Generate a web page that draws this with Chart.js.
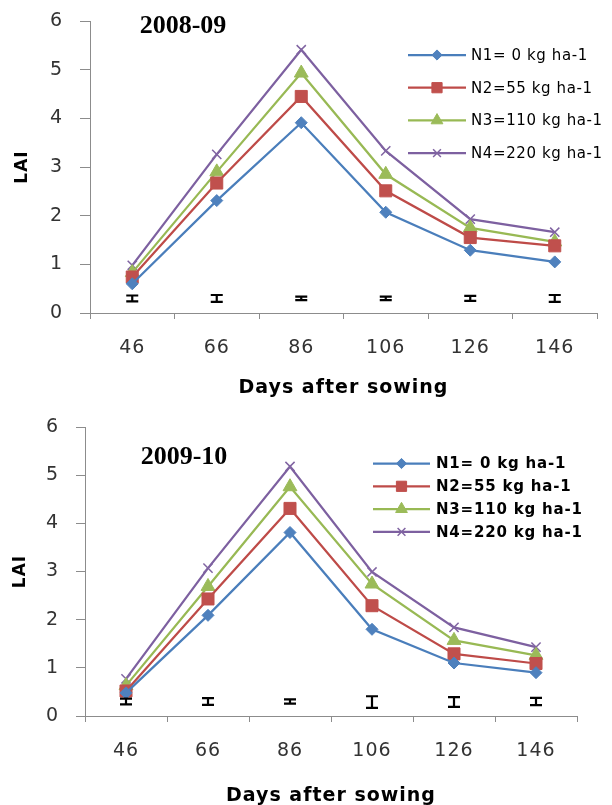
<!DOCTYPE html>
<html>
<head>
<meta charset="utf-8">
<script src="https://cdn.jsdelivr.net/npm/chart.js@4.4.1/dist/chart.umd.min.js"></script>
<style>
    html, body { margin: 0; padding: 0; background: #fff; overflow: hidden; }
    .box { position: absolute; left: 0; width: 612px; overflow: hidden; }
</style>
</head>
<body>
<div class="box" style="top:0;height:400px"><canvas id="c1" width="612" height="400"></canvas></div>
<div class="box" style="top:400px;height:405px"><canvas id="c2" width="612" height="420"></canvas></div>
<script>
// categories, series and ticks
const days = ['46', '66', '86', '106', '126', '146'];
const seriesNames = ['N1= 0 kg ha-1', 'N2=55 kg ha-1', 'N3=110 kg ha-1', 'N4=220 kg ha-1'];
const yTicks = [0, 1, 2, 3, 4, 5, 6];

// 2008-09
const n1_0809 = [0.60, 2.31, 3.91, 2.07, 1.29, 1.05];
const n2_0809 = [0.74, 2.67, 4.45, 2.51, 1.55, 1.38];
const n3_0809 = [0.83, 2.90, 4.93, 2.85, 1.75, 1.46];
const n4_0809 = [0.98, 3.26, 5.41, 3.33, 1.93, 1.66];
const errMid_0809 = [0.30, 0.30, 0.30, 0.30, 0.30, 0.30];
const errHalf_0809 = [0.06, 0.07, 0.035, 0.035, 0.05, 0.07];

// 2009-10
const n1_0910 = [0.48, 2.09, 3.81, 1.80, 1.10, 0.90];
const n2_0910 = [0.52, 2.43, 4.31, 2.29, 1.29, 1.09];
const n3_0910 = [0.63, 2.69, 4.76, 2.74, 1.57, 1.26];
const n4_0910 = [0.77, 3.07, 5.18, 2.99, 1.84, 1.43];
const errMid_0910 = [0.30, 0.30, 0.30, 0.29, 0.29, 0.30];
const errHalf_0910 = [0.06, 0.07, 0.045, 0.12, 0.10, 0.075];

const lineColors = ['#4A7EBB', '#BE4B48', '#98B954', '#7D60A0'];
const markColors = ['#4F81BD', '#C0504D', '#9BBB59', '#8064A2'];
const markers = ['rectRot', 'rect', 'triangle', 'crossRot'];
const radii = [6, 8.5, 8, 6.5];
const axisColor = '#8c8c8c';

function drawMark(ctx, style, r, x, y, color) {
    ctx.fillStyle = color;
    ctx.strokeStyle = color;
    ctx.lineWidth = style === 'crossRot' ? 1.5 : 1;
    if (Chart.helpers && Chart.helpers.drawPoint) {
        Chart.helpers.drawPoint(ctx, { pointStyle: style, radius: r, borderWidth: ctx.lineWidth, rotation: 0 }, x, y);
        return;
    }
    ctx.beginPath();
    ctx.arc(x, y, r * 0.7, 0, Math.PI * 2);
    ctx.fill();
}

// wider text for the axes, like the stretched original
const spacing = {
    id: 'spacing',
    beforeDraw(chart) { chart.ctx.letterSpacing = '1px'; }
};

const floatLegend = {
    id: 'floatLegend',
    afterDraw(chart, args, o) {
        const ctx = chart.ctx;
        ctx.save();
        chart.data.datasets.forEach((ds, i) => {
            const y = o.y + i * o.gap;
            ctx.strokeStyle = ds.borderColor;
            ctx.lineWidth = ds.borderWidth;
            ctx.beginPath();
            ctx.moveTo(o.x, y);
            ctx.lineTo(o.x + o.len, y);
            ctx.stroke();
            drawMark(ctx, ds.pointStyle, ds.pointRadius * 0.85, o.x + o.len / 2, y, ds.pointBorderColor);
            ctx.fillStyle = '#000';
            ctx.font = o.font;
            ctx.letterSpacing = o.spacing;
            ctx.textAlign = 'left';
            ctx.textBaseline = 'middle';
            ctx.fillText(ds.label, o.x + o.len + o.gapText, y + 1);
        });
        ctx.restore();
    }
};

const errorBars = {
    id: 'errorBars',
    afterDatasetsDraw(chart, args, o) {
        const { ctx, scales: { x, y } } = chart;
        ctx.save();
        ctx.strokeStyle = '#000';
        ctx.lineWidth = 2.2;
        o.mid.forEach((m, i) => {
            const px = x.getPixelForValue(i);
            const top = y.getPixelForValue(m + o.half[i]);
            const bot = y.getPixelForValue(m - o.half[i]);
            ctx.beginPath();
            ctx.moveTo(px, top); ctx.lineTo(px, bot);
            ctx.moveTo(px - o.cap, top); ctx.lineTo(px + o.cap, top);
            ctx.moveTo(px - o.cap, bot); ctx.lineTo(px + o.cap, bot);
            ctx.stroke();
        });
        ctx.restore();
    }
};

const yearLabel = {
    id: 'yearLabel',
    afterDraw(chart, args, o) {
        const ctx = chart.ctx;
        ctx.save();
        ctx.letterSpacing = '0px';
        ctx.font = 'bold 26px "Liberation Serif"';
        ctx.fillStyle = '#000';
        ctx.textAlign = 'center';
        ctx.textBaseline = 'middle';
        ctx.fillText(o.text, o.x, o.y);
        ctx.restore();
    }
};

function build(id, cfg) {
    const H = cfg.H, W = 612;
    return new Chart(document.getElementById(id), {
        type: 'line',
        data: {
            labels: days,
            datasets: cfg.values.map((v, i) => ({
                label: seriesNames[i],
                data: v,
                borderColor: lineColors[i],
                borderWidth: 2.25,
                pointStyle: markers[i],
                pointRadius: radii[i],
                pointBackgroundColor: markColors[i],
                pointBorderColor: markColors[i],
                pointBorderWidth: markers[i] === 'crossRot' ? 1.5 : 1,
                tension: 0
            }))
        },
        options: {
            responsive: false,
            animation: false,
            events: [],
            layout: { padding: { left: 0, top: cfg.area.top, right: W - cfg.area.right, bottom: 0 } },
            plugins: {
                legend: { display: false },
                tooltip: { enabled: false },
                floatLegend: cfg.legend,
                errorBars: cfg.err,
                yearLabel: cfg.year
            },
            scales: {
                x: {
                    offset: true,
                    grid: { offset: true, drawOnChartArea: false, tickLength: 6, color: axisColor },
                    border: { color: axisColor },
                    ticks: { font: { family: 'DejaVu Sans', size: 19 }, color: '#333', padding: 18 },
                    title: {
                        display: true, text: 'Days after sowing', color: '#000',
                        font: { family: 'DejaVu Sans', size: 19, weight: 'bold' },
                        padding: { top: 0, bottom: cfg.xTitlePad }
                    },
                    afterFit(s) { s.height = H - cfg.area.bottom; }
                },
                y: {
                    min: 0, max: 6,
                    afterBuildTicks(s) { s.ticks = yTicks.map(v => ({ value: v })); },
                    grid: { drawOnChartArea: false, tickLength: cfg.yTick, color: axisColor },
                    border: { color: axisColor },
                    ticks: { font: { family: 'DejaVu Sans', size: 19 }, color: '#333', padding: 17 },
                    title: {
                        display: true, text: 'LAI', color: '#000',
                        font: { family: 'DejaVu Sans', size: 17, weight: 'bold' },
                        padding: { top: cfg.yTitlePad, bottom: 0 }
                    },
                    afterFit(s) {
                        s.width = cfg.area.left;
                        s.paddingTop = 0;
                        s.paddingBottom = 0;
                    }
                }
            }
        },
        plugins: [spacing, errorBars, floatLegend, yearLabel]
    });
}

build('c1', {
    H: 400,
    area: { left: 90, top: 21, right: 597, bottom: 313 },
    yTick: 10, yTitlePad: 12, xTitlePad: 1,
    values: [n1_0809, n2_0809, n3_0809, n4_0809],
    err: { mid: errMid_0809, half: errHalf_0809, cap: 6 },
    legend: { x: 408, y: 55, gap: 32.7, len: 58, gapText: 5, font: '15px "DejaVu Sans"', spacing: '0.6px' },
    year: { text: '2008-09', x: 183, y: 26 }
});

build('c2', {
    H: 420,
    area: { left: 85, top: 27, right: 577, bottom: 316 },
    yTick: 9, yTitlePad: 10, xTitlePad: 13,
    values: [n1_0910, n2_0910, n3_0910, n4_0910],
    err: { mid: errMid_0910, half: errHalf_0910, cap: 6 },
    legend: { x: 373, y: 63.5, gap: 22.8, len: 57, gapText: 6, font: 'bold 15px "DejaVu Sans"', spacing: '0.8px' },
    year: { text: '2009-10', x: 184, y: 57 }
});
</script>
</body>
</html>
